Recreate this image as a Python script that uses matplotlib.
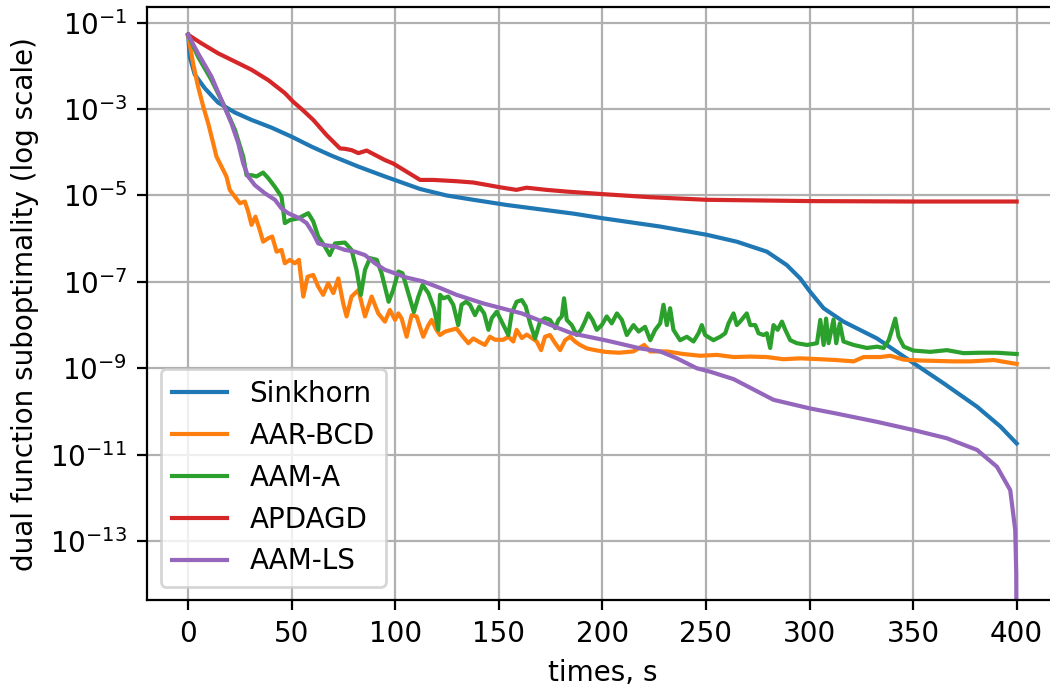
import numpy as np
import matplotlib
matplotlib.use("Agg")
import matplotlib.pyplot as plt
from matplotlib.ticker import NullLocator

# values, y stored as log10(gap)
sinkhorn_t = [0, 0.8, 3.2, 8.1, 14.5, 22.6, 30.6, 40.3, 50, 59.6, 69.3, 82.1, 95, 112, 124.8,
              137.7, 153.8, 169.9, 186, 200.5, 228, 250.4, 264.9, 279.4, 289, 295.5, 300.3,
              306.8, 316.4, 332.6, 350.2, 364.8, 380.9, 392.2, 400]
sinkhorn_log = [-1.28, -1.79, -2.20, -2.52, -2.85, -3.08, -3.25, -3.43, -3.64, -3.87, -4.08, -4.33,
                -4.56, -4.85, -5.00, -5.10, -5.22, -5.32, -5.42, -5.53, -5.72, -5.91, -6.07, -6.30,
                -6.61, -6.92, -7.23, -7.61, -7.92, -8.31, -8.88, -9.35, -9.89, -10.35, -10.74]

aar_t = [0, 2.4, 4.8, 7.3, 9.7, 12.1, 13.7, 16.1, 18.5, 20.1, 22.6, 25, 27.4, 29, 30.6, 32.5,
         34.6, 36.2, 38.7, 40.6, 42.7, 45.1, 46.7, 49.1, 51.5, 53.5, 55.6, 57.7, 60.4, 62.8,
         65.2, 67.6, 70.1, 72.5, 74.9, 76.5, 78.9, 82.2, 85.4, 88.6, 91.8, 95, 97.4, 99.9,
         101.5, 103.1, 105.5, 107.9, 110.3, 113.5, 116, 117.6, 119.9, 121.6, 124.1, 127.2,
         129.6, 132, 135.3, 137.7, 140.1, 143.3, 145.7, 148.2, 152.2, 154.6, 157, 158.6, 161.1,
         163.5, 165.9, 168.3, 170.4, 172.3, 174.7, 177.2, 179.6, 182, 184.4, 186.8, 189.2,
         192.5, 196.5, 201.3, 208, 215, 220.2, 223.1, 231.1, 239.1, 247.2, 255.3, 263.3, 271.4,
         279.4, 287.4, 295.5, 305.2, 313.2, 321.3, 326.1, 334.2, 339, 345.5, 353.6, 361.6,
         369.7, 377.7, 389, 400]
aar_log = [-1.28, -1.94, -2.48, -2.94, -3.33, -3.79, -4.10, -4.33, -4.56, -4.87, -5.03, -5.18,
           -5.14, -5.37, -5.68, -5.49, -5.80, -6.07, -5.99, -5.95, -6.30, -6.26, -6.57, -6.49,
           -6.57, -6.49, -7.34, -6.88, -6.84, -7.11, -7.30, -7.03, -7.26, -6.92, -7.50, -7.80,
           -7.34, -7.19, -7.80, -7.34, -7.73, -7.92, -7.65, -7.88, -7.73, -7.85, -8.27, -7.77,
           -7.80, -8.27, -8.00, -7.88, -8.11, -8.23, -8.15, -8.11, -8.08, -8.23, -8.42, -8.31,
           -8.38, -8.46, -8.27, -8.34, -8.34, -8.27, -8.38, -8.11, -8.30, -8.22, -8.30, -8.38,
           -8.58, -8.27, -8.23, -8.42, -8.58, -8.35, -8.27, -8.38, -8.46, -8.54, -8.58, -8.62,
           -8.64, -8.61, -8.46, -8.61, -8.61, -8.67, -8.71, -8.69, -8.74, -8.73, -8.74, -8.79,
           -8.77, -8.79, -8.81, -8.84, -8.74, -8.74, -8.71, -8.80, -8.82, -8.83, -8.84, -8.84,
           -8.81, -8.90]

aama_t = [0, 4.8, 11.3, 17.6, 22.6, 26.6, 28.2, 30.6, 33, 36.2, 38.7, 41.9, 45.1, 46.7, 49.1,
          53.2, 58, 60.4, 62.8, 66, 68.4, 70.9, 75.7, 78.9, 81.3, 83.4, 85.4, 87.8, 91.1, 93.4,
          96.8, 99, 101.5, 103.5, 106.3, 109, 111.1, 113.2, 116, 118.7, 120.8, 121.6, 123.2,
          125.6, 128, 130.4, 132, 134.2, 136.1, 138.5, 140.6, 142.9, 145, 146.6, 149, 151.4,
          154.6, 156.2, 158.6, 161.1, 163, 165.1, 167.5, 169.9, 172.3, 174.7, 177.2, 178.8,
          180.4, 181.5, 182.8, 185.2, 187.6, 189.7, 191.6, 193.2, 195.2, 197.3, 199.7, 202.1,
          204.5, 207, 209.4, 211.8, 215, 217.5, 220.6, 223.1, 225.5, 227.9, 229.5, 231.1, 232.7,
          234.3, 237.5, 240.8, 244, 246.4, 248, 249.6, 253.6, 256.9, 259.3, 260.9, 263.3, 264.9,
          266.5, 269.7, 271.4, 273.8, 275.4, 277.8, 279.4, 281, 282.6, 284.6, 286.7, 288.3,
          290.7, 293.9, 298.8, 303.6, 305.2, 306.8, 308, 309.2, 311.6, 312.9, 314.6, 316.4,
          321.3, 327.7, 332.6, 335.8, 338.2, 339.8, 341.4, 343, 345.5, 350.2, 358.3, 366.3,
          374.4, 382.4, 390.5, 400]
aama_log = [-1.28, -1.79, -2.33, -2.94, -3.48, -4.10, -4.53, -4.53, -4.56, -4.47, -4.60, -4.80,
            -5.03, -5.64, -5.57, -5.53, -5.41, -5.60, -5.95, -6.18, -6.38, -6.11, -6.09, -6.26,
            -6.72, -7.30, -6.72, -6.45, -6.49, -6.80, -7.46, -7.19, -6.76, -6.80, -7.26, -7.70,
            -7.35, -7.07, -7.26, -7.61, -8.11, -7.30, -7.38, -7.34, -7.53, -8.00, -7.53, -7.46,
            -7.53, -7.77, -7.57, -7.73, -8.11, -7.84, -7.69, -7.92, -8.23, -7.73, -7.46, -7.42,
            -7.57, -7.96, -8.31, -7.92, -7.84, -7.88, -8.07, -7.88, -7.80, -7.38, -7.88, -8.00,
            -8.23, -8.11, -7.92, -7.73, -7.88, -8.11, -8.00, -7.80, -7.96, -7.73, -7.88, -8.23,
            -8.00, -8.15, -8.04, -8.35, -8.11, -7.96, -7.53, -8.00, -7.61, -8.11, -8.35, -8.27,
            -8.38, -8.19, -8.00, -8.23, -8.35, -8.27, -8.19, -7.96, -7.73, -8.00, -7.92, -7.73,
            -8.00, -8.00, -8.19, -8.23, -8.19, -8.53, -8.00, -8.11, -7.92, -8.11, -8.35, -8.42,
            -8.46, -8.42, -7.88, -8.46, -7.85, -8.42, -7.87, -8.42, -7.96, -8.38, -8.46, -8.53,
            -8.50, -8.53, -8.35, -8.11, -7.85, -8.27, -8.50, -8.59, -8.62, -8.58, -8.65, -8.64,
            -8.64, -8.67]

apdagd_t = [0, 6.5, 14.5, 22.6, 30.6, 38.7, 46.7, 50.7, 55.5, 60.4, 66.8, 73.3, 75.7, 78.9,
            82.2, 86.2, 90.2, 95, 99, 105.5, 112, 118.4, 129.6, 137.7, 150.6, 158.5, 163.4, 173,
            182.8, 200.5, 223, 250.4, 300.3, 350.2, 400]
apdagd_log = [-1.28, -1.48, -1.71, -1.90, -2.09, -2.33, -2.63, -2.83, -3.03, -3.25, -3.60, -3.91,
              -3.92, -3.95, -4.02, -3.96, -4.06, -4.18, -4.26, -4.45, -4.64, -4.64, -4.67, -4.70,
              -4.81, -4.87, -4.82, -4.87, -4.91, -4.97, -5.04, -5.10, -5.13, -5.14, -5.14]

aamls_t = [0, 4.8, 11.3, 16.1, 20.9, 24.2, 26.6, 29, 32.2, 37.1, 41.9, 45.1, 48.3, 53.9, 57.2,
           60.4, 62.8, 66, 70.9, 75.7, 80.5, 85.4, 90.2, 95, 97.4, 105.5, 113.5, 121.6, 129.6,
           142.6, 153, 161.1, 169, 177.2, 185.2, 193.2, 201.3, 209.4, 218.2, 227.9, 236, 245.6,
           252.1, 263.3, 282.6, 300.3, 313.2, 332.6, 350.2, 366.3, 380.9, 390.5, 396.9, 399.3,
           399.8, 400]
aamls_log = [-1.28, -1.71, -2.25, -2.79, -3.33, -3.79, -4.26, -4.56, -4.76, -4.95, -5.10, -5.30,
             -5.41, -5.53, -5.64, -5.88, -6.11, -6.15, -6.18, -6.26, -6.30, -6.38, -6.57, -6.72,
             -6.76, -6.90, -6.99, -7.14, -7.30, -7.50, -7.63, -7.73, -7.88, -8.04, -8.19, -8.27,
             -8.35, -8.44, -8.54, -8.61, -8.77, -9.00, -9.08, -9.25, -9.73, -9.93, -10.05,
             -10.24, -10.43, -10.62, -10.89, -11.28, -11.82, -12.74, -13.75, -17.0]

series = [
    ("Sinkhorn", sinkhorn_t, sinkhorn_log),
    ("AAR-BCD", aar_t, aar_log),
    ("AAM-A", aama_t, aama_log),
    ("APDAGD", apdagd_t, apdagd_log),
    ("AAM-LS", aamls_t, aamls_log),
]

fig = plt.figure(figsize=(5.25, 3.44), dpi=200)
# right part of the axes runs past the picture edge, like in the reference
ax = fig.add_axes([0.1397, 0.1272, 0.868, 0.8622])

for name, t, lg in series:
    ax.plot(t, np.power(10.0, lg), label=name)

ax.set_yscale("log")
ax.set_xlim(-20, 420)
ax.set_ylim(10 ** -14.375, 10 ** -0.644)
ax.set_yticks([10.0 ** e for e in range(-1, -15, -2)])
ax.yaxis.set_minor_locator(NullLocator())
ax.set_xticks([0, 50, 100, 150, 200, 250, 300, 350, 400])
ax.grid(True)
ax.set_xlabel("times, s")
ax.set_ylabel("dual function suboptimality (log scale)")
ax.legend(loc="lower left")

fig.savefig("out.png", dpi=200)
